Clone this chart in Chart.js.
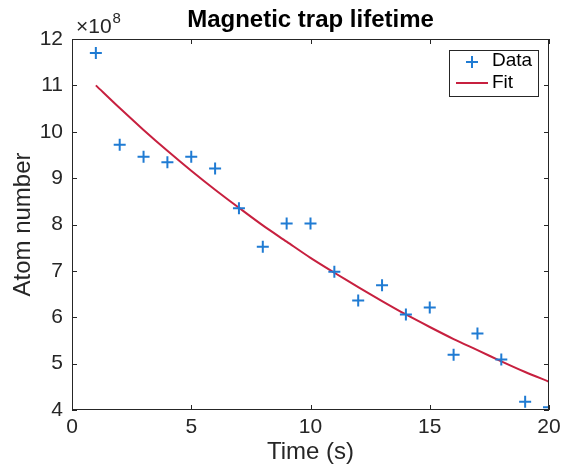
<!DOCTYPE html>
<html>
<head>
<meta charset="utf-8">
<script src="https://cdn.jsdelivr.net/npm/chart.js@4.4.0/dist/chart.umd.min.js"></script>
<style>
  html, body { margin: 0; padding: 0; background: #fff; }
  #wrap { width: 561px; height: 467px; }
</style>
</head>
<body>
<div id="wrap"><canvas id="lifetimeChart"></canvas></div>
<script>
// measured data (atom number vs time)
const timeS = [1, 2, 3, 4, 5, 6, 7, 8, 9, 10, 11, 12, 13, 14, 15, 16, 17, 18, 19, 20];
const atomNumber = [11.70e8, 9.72e8, 9.46e8, 9.34e8, 9.46e8, 9.21e8, 8.35e8, 7.52e8, 8.02e8, 8.02e8,
                    6.98e8, 6.36e8, 6.69e8, 6.06e8, 6.21e8, 5.19e8, 5.65e8, 5.09e8, 4.18e8, 4.06e8];
// fitted curve at each time
const fitNumber = [11.00e8, 10.51e8, 10.04e8, 9.59e8, 9.16e8, 8.75e8, 8.36e8, 7.98e8, 7.63e8, 7.28e8,
                   6.96e8, 6.65e8, 6.35e8, 6.06e8, 5.79e8, 5.53e8, 5.29e8, 5.05e8, 4.82e8, 4.61e8];
const xTicks = [0, 5, 10, 15, 20];
const yTicks = [4, 5, 6, 7, 8, 9, 10, 11, 12];

const FONT = "'Liberation Sans', Arial, sans-serif";
const AXIS_COLOR = '#262626';
const DATA_COLOR = '#1f7bd3';
const FIT_COLOR = '#c7203f';

// MATLAB-like box, inward ticks, title, exponent label and legend
const matlabAxes = {
  id: 'matlabAxes',
  afterDraw(chart) {
    const { ctx, chartArea: a, scales: { x, y } } = chart;
    const tick = 5;
    ctx.save();
    ctx.strokeStyle = AXIS_COLOR;
    ctx.lineWidth = 1;
    ctx.strokeRect(a.left + 0.5, a.top + 0.5, a.right - a.left - 1, a.bottom - a.top - 1);
    ctx.beginPath();
    xTicks.forEach(v => {
      const px = Math.round(x.getPixelForValue(v)) + 0.5;
      ctx.moveTo(px, a.bottom); ctx.lineTo(px, a.bottom - tick);
      ctx.moveTo(px, a.top); ctx.lineTo(px, a.top + tick);
    });
    yTicks.forEach(v => {
      const py = Math.round(y.getPixelForValue(v * 1e8)) + 0.5;
      ctx.moveTo(a.left, py); ctx.lineTo(a.left + tick, py);
      ctx.moveTo(a.right, py); ctx.lineTo(a.right - tick, py);
    });
    ctx.stroke();

    // title, centred over the axes box
    ctx.fillStyle = '#000';
    ctx.textBaseline = 'alphabetic';
    ctx.textAlign = 'center';
    ctx.font = 'bold 24px ' + FONT;
    ctx.fillText('Magnetic trap lifetime', (a.left + a.right) / 2, 27);

    // exponent
    ctx.fillStyle = AXIS_COLOR;
    ctx.textAlign = 'left';
    ctx.font = '21px ' + FONT;
    ctx.fillText('\u00d710', a.left + 4, 33);
    const w = ctx.measureText('\u00d710').width;
    ctx.font = '15px ' + FONT;
    ctx.fillText('8', a.left + 4 + w + 1, 23);

    // legend
    const lx = 449, ly = 50, lw = 89, lh = 46;
    ctx.fillStyle = '#fff';
    ctx.fillRect(lx, ly, lw, lh);
    ctx.strokeStyle = AXIS_COLOR;
    ctx.strokeRect(lx + 0.5, ly + 0.5, lw, lh);
    ctx.strokeStyle = DATA_COLOR;
    ctx.lineWidth = 2;
    ctx.beginPath();
    ctx.moveTo(466, 62); ctx.lineTo(478, 62);
    ctx.moveTo(472, 56); ctx.lineTo(472, 68);
    ctx.stroke();
    ctx.strokeStyle = FIT_COLOR;
    ctx.beginPath();
    ctx.moveTo(456, 83); ctx.lineTo(488, 83);
    ctx.stroke();
    ctx.fillStyle = '#000';
    ctx.font = '19px ' + FONT;
    ctx.textBaseline = 'middle';
    ctx.fillText('Data', 492, 61);
    ctx.fillText('Fit', 492, 83);
    ctx.restore();
  }
};

new Chart(document.getElementById('lifetimeChart'), {
  type: 'scatter',
  data: {
    datasets: [
      {
        label: 'Data',
        data: timeS.map((t, i) => ({ x: t, y: atomNumber[i] })),
        pointStyle: 'cross',
        pointRadius: 6,
        pointBorderWidth: 2,
        borderColor: DATA_COLOR,
        backgroundColor: DATA_COLOR,
        showLine: false
      },
      {
        label: 'Fit',
        type: 'line',
        data: timeS.map((t, i) => ({ x: t, y: fitNumber[i] })),
        borderColor: FIT_COLOR,
        borderWidth: 2,
        pointRadius: 0,
        tension: 0.3,
        fill: false
      }
    ]
  },
  options: {
    responsive: true,
    maintainAspectRatio: false,
    animation: false,
    layout: { padding: { left: 0, right: 12, top: 39, bottom: 0 } },
    plugins: {
      legend: { display: false },
      tooltip: { enabled: false },
      title: { display: false }
    },
    scales: {
      x: {
        type: 'linear',
        min: 0, max: 20,
        afterBuildTicks: s => { s.ticks = xTicks.map(v => ({ value: v })); },
        afterFit: s => { s.height = 57; s.paddingLeft = 0; s.paddingRight = 0; },
        grid: { display: false, drawTicks: false },
        border: { display: false },
        ticks: { color: AXIS_COLOR, padding: 5, maxRotation: 0, font: { family: FONT, size: 21 } },
        title: { display: true, text: 'Time (s)', color: AXIS_COLOR, padding: { top: 0, bottom: 0 }, font: { family: FONT, size: 24 } }
      },
      y: {
        min: 4e8, max: 12e8,
        afterBuildTicks: s => { s.ticks = yTicks.map(v => ({ value: v * 1e8 })); },
        afterFit: s => { s.width = 72; s.paddingTop = 0; s.paddingBottom = 0; },
        grid: { display: false, drawTicks: false },
        border: { display: false },
        ticks: { color: AXIS_COLOR, padding: 9, font: { family: FONT, size: 21 }, callback: v => String(Math.round(v / 1e8)) },
        title: { display: true, text: 'Atom number', color: AXIS_COLOR, padding: { top: 9, bottom: 0 }, font: { family: FONT, size: 24 } }
      }
    }
  },
  plugins: [matlabAxes]
});
</script>
</body>
</html>
